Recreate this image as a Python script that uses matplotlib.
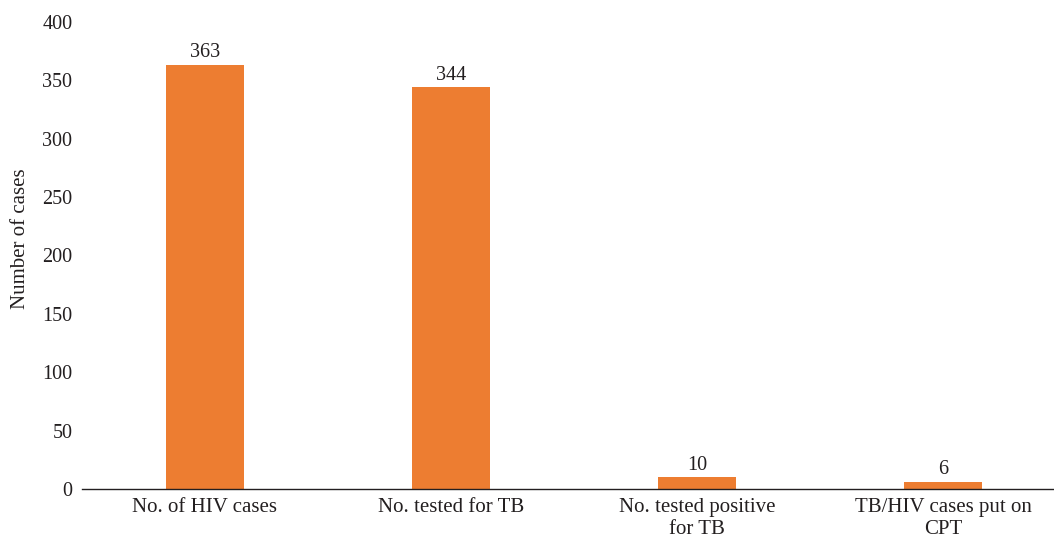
import matplotlib
matplotlib.use("Agg")
import matplotlib.pyplot as plt

categories = ["No. of HIV cases", "No. tested for TB",
              "No. tested positive\nfor TB", "TB/HIV cases put on\nCPT"]
counts = [363, 344, 10, 6]
y_ticks = [0, 50, 100, 150, 200, 250, 300, 350, 400]

plt.rcParams["font.family"] = ["Liberation Serif", "DejaVu Serif"]
text_color = "#231f20"
fs_text = 15
fs_num = 14.5

fig = plt.figure(figsize=(10.54, 5.39), dpi=100)
ax = fig.add_axes([82 / 1054, 1 - 489 / 539, 1 - 82 / 1054, (489 - 22) / 539])

x = range(len(categories))
bars = ax.bar(x, counts, width=0.317, color="#ed7d31")
for rect, v in zip(bars, counts):
    ax.annotate(str(v), (rect.get_x() + rect.get_width() / 2, v),
                xytext=(0, 2), textcoords="offset points",
                ha="center", va="bottom", fontsize=fs_num, color=text_color)

ax.set_xlim(-0.5, -0.5 + (1054 - 82) / 246)
ax.set_ylim(0, 400)
ax.set_yticks(y_ticks)
ax.set_xticks(list(x))
ax.set_xticklabels(categories, fontsize=fs_text, color=text_color, linespacing=1.22)
ax.tick_params(axis="y", length=0, pad=7, labelsize=fs_num, labelcolor=text_color)
ax.tick_params(axis="x", length=0, pad=6.5)
ax.set_ylabel("Number of cases", fontsize=fs_text, color=text_color)
ax.yaxis.set_label_coords(-52 / 972, (489 - 239) / 467)

for side in ("left", "right", "top"):
    ax.spines[side].set_visible(False)
ax.spines["bottom"].set_color("#231f20")
ax.spines["bottom"].set_linewidth(1.0)

fig.savefig("out.png", dpi=100)
